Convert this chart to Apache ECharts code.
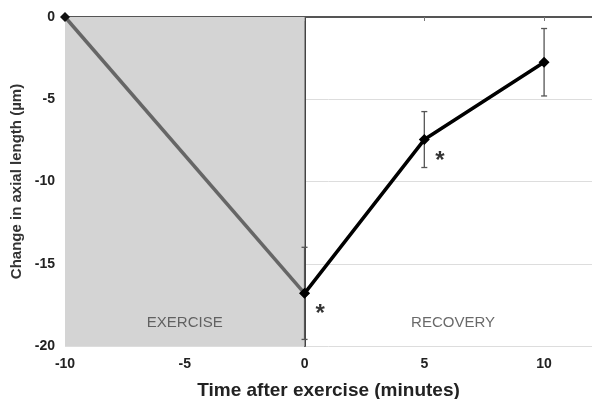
<!DOCTYPE html>
<html><head><meta charset="utf-8">
<script src="https://cdn.jsdelivr.net/npm/echarts@6/dist/echarts.min.js"></script>
<style>html,body{margin:0;padding:0;background:#fff}#c{width:592px;height:399px}</style>
</head><body><div id="c"></div>
<script>
const times = [-10, 0, 5, 10];
const values = [0, -16.8, -7.45, -2.75];
const errors = [0, 2.8, 1.7, 2.05];
const xTicks = [-10, -5, 0, 5, 10];
const yTicks = [0, -5, -10, -15, -20];
const phaseLabels = ['EXERCISE', 'RECOVERY'];
const phaseCenters = [-5, 6.2];
const starIdx = [1, 2];

const exercise = [[times[0], values[0]], [times[1], values[1]]];
const recovery = times.slice(1).map((t, i) => [t, values[i + 1]]);
const errData = times.map((t, i) => [t, values[i] - errors[i], values[i] + errors[i]]).filter((d, i) => errors[i] > 0);
const phaseData = phaseLabels.map((n, i) => [phaseCenters[i], -18.6, n]);
const starData = starIdx.map(i => [times[i] + 0.65, values[i] - 1.3, '*']);

const chart = echarts.init(document.getElementById('c'));
const font = 'Liberation Sans, Arial, sans-serif';
chart.setOption({
  animation: false,
  grid: { left: 65, right: 0, top: 17, bottom: 53, containLabel: false, outerBoundsMode: 'none' },
  xAxis: [{
    type: 'value', min: -10, max: 12, interval: 5,
    axisLine: { show: true, lineStyle: { color: '#444', width: 2 } },
    axisTick: { show: false },
    splitLine: { show: false },
    axisLabel: { color: '#222', fontFamily: font, fontWeight: 'bold', fontSize: 14, margin: 11,
      formatter: v => xTicks.includes(v) ? String(v) : '' },
    name: 'Time after exercise (minutes)', nameLocation: 'middle', nameGap: 35,
    nameTextStyle: { color: '#222', fontFamily: font, fontWeight: 'bold', fontSize: 19 }
  }, {
    type: 'value', min: -10, max: 12, interval: 5, position: 'top',
    axisLine: { show: true, lineStyle: { color: '#555', width: 2 } },
    axisTick: { show: true, inside: true, length: 4, lineStyle: { color: '#777' } },
    axisLabel: { show: false }, splitLine: { show: false }
  }],
  yAxis: {
    type: 'value', min: -20, max: 0, interval: 5,
    axisLine: { show: true, lineStyle: { color: '#444', width: 2 } },
    axisTick: { show: false },
    splitLine: { show: true, lineStyle: { color: '#ddd', width: 1 } },
    axisLabel: { color: '#222', fontFamily: font, fontWeight: 'bold', fontSize: 14, margin: 10,
      formatter: v => yTicks.includes(v) ? String(v) : '' },
    name: 'Change in axial length (µm)', nameLocation: 'middle', nameGap: 38,
    nameTextStyle: { color: '#333', fontFamily: font, fontWeight: 'bold', fontSize: 15 }
  },
  series: [{
    type: 'line', data: exercise, z: 3,
    lineStyle: { color: '#666', width: 3.5 },
    symbol: 'diamond', symbolSize: 10, itemStyle: { color: '#111' },
    markArea: { silent: true, itemStyle: { color: '#d4d4d4' }, data: [[{ xAxis: times[0], yAxis: -20 }, { xAxis: times[1], yAxis: 0 }]] }
  }, {
    type: 'custom', z: 2,
    renderItem: (params, api) => {
      const x = api.value(0);
      const lo = api.coord([x, api.value(1)]);
      const hi = api.coord([x, api.value(2)]);
      const style = { stroke: '#555', lineWidth: 1.3 };
      return { type: 'group', children: [
        { type: 'line', shape: { x1: lo[0], y1: lo[1], x2: hi[0], y2: hi[1] }, style },
        { type: 'line', shape: { x1: lo[0] - 3, y1: lo[1], x2: lo[0] + 3, y2: lo[1] }, style },
        { type: 'line', shape: { x1: hi[0] - 3, y1: hi[1], x2: hi[0] + 3, y2: hi[1] }, style }
      ] };
    },
    encode: { x: 0, y: [1, 2] },
    data: errData
  }, {
    type: 'line', data: recovery, z: 4,
    lineStyle: { color: '#000', width: 3.5 },
    symbol: 'diamond', symbolSize: 11, itemStyle: { color: '#000' }
  }, {
    type: 'scatter', data: phaseData, z: 5, silent: true,
    symbolSize: 1, itemStyle: { color: 'rgba(0,0,0,0)' },
    label: { show: true, position: 'inside', color: '#444', fontFamily: font, fontSize: 15, formatter: p => p.value[2] }
  }, {
    type: 'scatter', data: starData, z: 5, silent: true,
    symbolSize: 1, itemStyle: { color: 'rgba(0,0,0,0)' },
    label: { show: true, position: 'inside', color: '#000', fontFamily: font, fontWeight: 'bold', fontSize: 24, formatter: p => p.value[2] }
  }]
});
</script></body></html>
